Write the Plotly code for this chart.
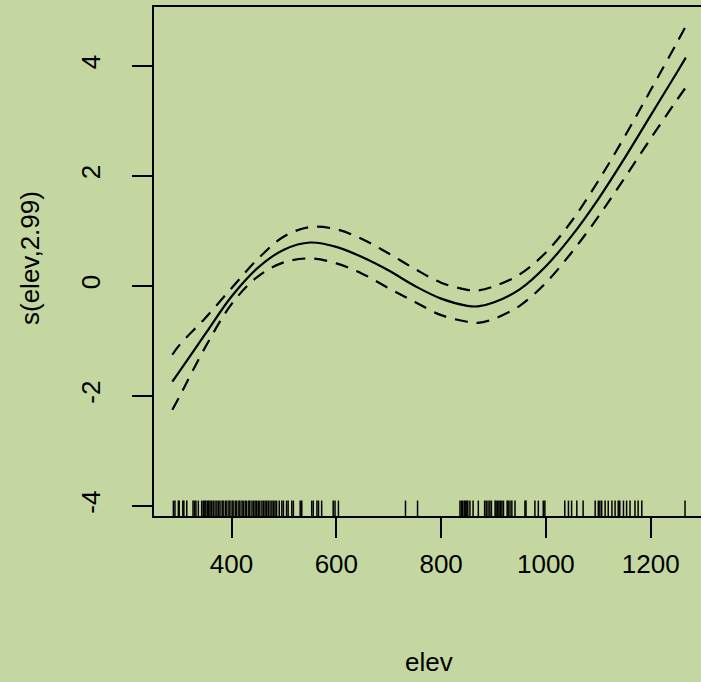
import plotly.graph_objects as go

# ---- data ----
elev = [287, 300, 350, 400, 450, 500, 550, 600, 650, 700, 750, 800, 850, 870,
        900, 950, 1000, 1050, 1100, 1150, 1200, 1250, 1267]
fit = [-1.74, -1.56, -0.87, -0.19, 0.33, 0.66, 0.79, 0.71, 0.52, 0.28, 0.0, -0.23,
       -0.36, -0.37, -0.30, -0.06, 0.36, 0.92, 1.58, 2.32, 3.10, 3.88, 4.15]
upper = [-1.25, -1.08, -0.58, -0.04, 0.49, 0.90, 1.07, 1.03, 0.85, 0.59, 0.31, 0.06,
         -0.07, -0.08, -0.01, 0.21, 0.61, 1.19, 1.91, 2.71, 3.56, 4.42, 4.72]
lower = [-2.25, -2.02, -1.11, -0.33, 0.17, 0.43, 0.50, 0.41, 0.22, -0.04, -0.29, -0.53,
         -0.65, -0.67, -0.60, -0.36, 0.06, 0.62, 1.26, 1.96, 2.68, 3.38, 3.61]

rug = [289, 292, 298.5, 300, 307, 309, 314.5, 326.5, 329.4, 332, 336.6, 343, 346, 349,
       351, 354, 356.5, 359, 362, 365, 368.5, 372, 375, 378, 382, 384, 388, 391, 395,
       397, 401, 403, 407, 410, 414, 416, 420, 422.5, 426, 429, 433, 435, 439, 442,
       445, 448, 451, 454, 458, 461, 464, 467, 470, 473.5, 477, 480, 483, 486, 491,
       496, 499, 505, 508, 515, 518, 531, 534, 553, 556, 563, 566, 572, 594, 597.5,
       604, 732, 755, 836, 839, 841, 844, 846, 849, 851, 855, 861, 871, 883, 886,
       889.5, 893, 896, 903, 905, 908, 910.5, 913, 916, 919, 926, 928, 931.5, 935,
       941, 960, 962, 979, 985.5, 995, 998, 1036, 1043, 1049, 1059, 1071, 1094, 1100,
       1103, 1106.5, 1113, 1119, 1126, 1132, 1138, 1141, 1148, 1154, 1160.5, 1170,
       1176, 1183, 1265.5]

x_ticks = [400, 600, 800, 1000, 1200]
y_ticks = [-4, -2, 0, 2, 4]
x_title = "elev"
y_title = "s(elev,2.99)"

# ---- figure ----
X_RANGE = [252, 1296]
Y_RANGE = [-4.18, 5.07]
RUG_LEN = 0.28

BG = "#C5D7A0"
FONT = "Liberation Sans, Arial, sans-serif"
FS = 26

fig = go.Figure()

rx, ry = [], []
for v in rug:
    rx += [v, v, None]
    ry += [Y_RANGE[0], Y_RANGE[0] + RUG_LEN, None]
fig.add_trace(go.Scatter(x=rx, y=ry, mode="lines",
                         line=dict(color="black", width=1.5),
                         hoverinfo="skip", showlegend=False))

for ys in (upper, lower):
    fig.add_trace(go.Scatter(x=elev, y=ys, mode="lines",
                             line=dict(color="black", width=2.2, dash="13px,9px",
                                       shape="spline", smoothing=1.0),
                             showlegend=False))
fig.add_trace(go.Scatter(x=elev, y=fit, mode="lines",
                         line=dict(color="black", width=2.2, shape="spline", smoothing=1.0),
                         showlegend=False))

fig.update_layout(
    width=701, height=682,
    margin=dict(l=154, r=0, t=7, b=166, pad=0),
    paper_bgcolor=BG, plot_bgcolor=BG,
    font=dict(family=FONT, size=FS, color="black"),
    showlegend=False,
    xaxis=dict(range=X_RANGE, tickmode="array", tickvals=x_ticks,
               ticktext=[str(t) for t in x_ticks],
               showgrid=False, zeroline=False, showline=True, linecolor="black",
               linewidth=2, mirror=True, ticks="outside", ticklen=20, tickwidth=2,
               tickcolor="black", tickfont=dict(size=FS), ticklabelstandoff=4),
    yaxis=dict(range=Y_RANGE, tickmode="array", tickvals=y_ticks,
               ticktext=[str(t) for t in y_ticks],
               showgrid=False, zeroline=False, showline=True, linecolor="black",
               linewidth=2, ticks="outside", ticklen=20, tickwidth=2,
               tickcolor="black", tickangle=-90, tickfont=dict(size=FS),
               ticklabelstandoff=22),
    annotations=[
        dict(text=x_title, xref="paper", yref="paper",
             x=(429 - 154) / 547, y=(516 - 662) / 509,
             xanchor="center", yanchor="middle", showarrow=False,
             font=dict(size=FS)),
        dict(text=y_title, xref="paper", yref="paper",
             x=(30 - 154) / 547, y=(516 - 258) / 509, textangle=-90,
             xanchor="center", yanchor="middle", showarrow=False,
             font=dict(size=FS)),
    ],
)

fig.write_html("out.html",
               config={"displayModeBar": False},
               post_script="document.body.style.margin='0';"
                           "document.body.style.overflow='hidden';")
